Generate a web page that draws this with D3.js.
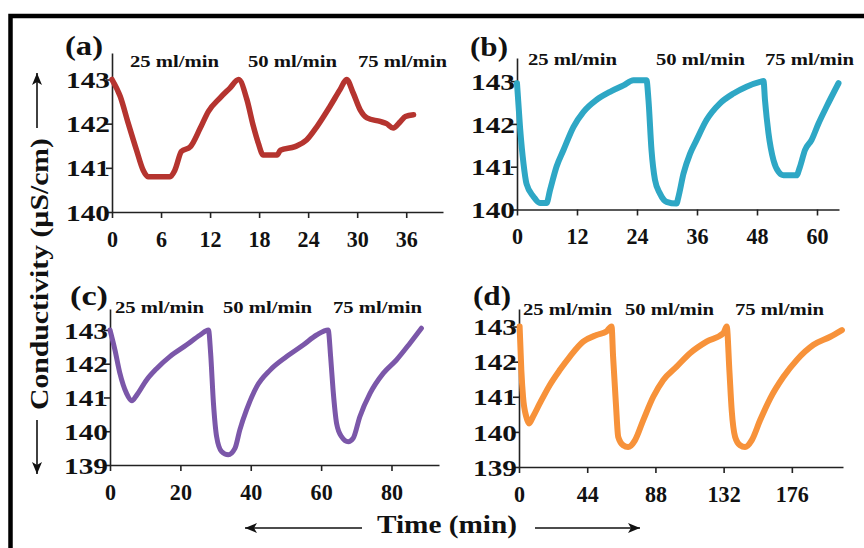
<!DOCTYPE html>
<html>
<head>
<meta charset="utf-8">
<script src="https://cdn.jsdelivr.net/npm/d3@7"></script>
<style>
  body { margin: 0; background: #fff; }
  text { font-family: "Liberation Serif", "Times New Roman", Tinos, serif; font-weight: bold; fill: #111; }
</style>
</head>
<body>
<div id="chart"></div>
<script>
// datos (tiempo en min, conductividad en uS/cm)
const timeA = [0, 1, 2, 3, 3.8, 4.4, 7.1, 7.7, 8.5, 9.6, 10.8, 11.8, 13.2, 14.4, 15.5, 16.5, 17.3, 17.9, 18.5, 20.2, 20.6, 22.4, 23.8, 25.1, 26.7, 27.9, 28.7, 29.5, 30.4, 31.2, 32.8, 33.6, 34.4, 35.3, 35.9, 36.9];
const condA = [143, 142.62, 142.0, 141.4, 140.95, 140.8, 140.8, 140.95, 141.37, 141.48, 141.9, 142.28, 142.58, 142.8, 143.0, 142.55, 141.94, 141.56, 141.29, 141.29, 141.4, 141.48, 141.63, 141.94, 142.4, 142.77, 143.0, 142.7, 142.3, 142.13, 142.05, 142.0, 141.9, 142.05, 142.16, 142.2];

const timeB = [0, 0.6, 1.3, 1.9, 3.3, 4.6, 5.9, 6.6, 7.9, 9.3, 11.3, 13.3, 15.9, 18.6, 21.3, 23.3, 25.9, 26.3, 26.9, 27.6, 28.6, 29.9, 31.9, 32.3, 33.3, 34.6, 35.9, 37.9, 40.6, 43.3, 45.9, 48.6, 49.3, 49.6, 50.3, 51.3, 52.3, 53.3, 55.9, 56.6, 57.6, 58.9, 60.3, 61.9, 64.3];
const condB = [142.95, 141.93, 141.07, 140.6, 140.3, 140.15, 140.15, 140.45, 141.0, 141.39, 141.93, 142.28, 142.56, 142.75, 142.9, 143.02, 143.02, 142.55, 141.39, 140.69, 140.37, 140.18, 140.14, 140.3, 140.84, 141.3, 141.62, 142.09, 142.48, 142.71, 142.87, 142.98, 143.0, 142.55, 141.78, 141.15, 140.88, 140.8, 140.8, 141.0, 141.39, 141.62, 142.01, 142.4, 142.95];

const timeC = [0, 1.4, 2.8, 4.7, 6.2, 7.6, 10.4, 13.3, 17, 21.8, 25.6, 28, 28.6, 29.4, 30.3, 31.7, 33.6, 35.5, 36.9, 38.8, 41.7, 45.5, 50.2, 55, 58.7, 62, 62.7, 63.4, 64.4, 65.8, 67.7, 69.1, 71, 73.9, 77.7, 81.4, 85.2, 88.5];
const condC = [143, 142.41, 141.72, 141.12, 140.9, 141.07, 141.52, 141.86, 142.21, 142.56, 142.85, 143.0, 142.31, 140.83, 139.84, 139.4, 139.3, 139.49, 140.04, 140.63, 141.32, 141.81, 142.21, 142.56, 142.85, 143.0, 142.21, 141.22, 140.23, 139.84, 139.69, 139.79, 140.43, 141.12, 141.72, 142.11, 142.6, 143.05];

const timeD = [0.4, 1.5, 2.6, 4.7, 6.5, 9, 13.4, 19.8, 26.3, 32.7, 41.4, 50, 56.4, 59.7, 60.7, 62.5, 64, 67.2, 70.4, 74.8, 80.1, 86.6, 93.1, 101.7, 110.3, 121, 131.8, 134, 135.7, 137.2, 139.4, 142.6, 145.8, 150.1, 155.5, 162, 170.6, 179.2, 190, 200.8, 208.3];
const condD = [143, 141.76, 141.0, 140.43, 140.24, 140.43, 140.81, 141.33, 141.76, 142.14, 142.57, 142.76, 142.86, 143.0, 142.14, 140.81, 139.86, 139.62, 139.57, 139.76, 140.33, 141.0, 141.48, 141.86, 142.24, 142.57, 142.81, 143.0, 141.76, 140.62, 139.86, 139.62, 139.57, 139.76, 140.33, 140.95, 141.57, 142.05, 142.48, 142.71, 142.9];

const ticksXA = [0, 6, 12, 18, 24, 30, 36];
const ticksXB = [0, 12, 24, 36, 48, 60];
const ticksXC = [0, 20, 40, 60, 80];
const ticksXD = [0, 44, 88, 132, 176];
const ticksYAB = [140, 141, 142, 143];
const ticksYCD = [139, 140, 141, 142, 143];
const flowLabels = ["25 ml/min", "50 ml/min", "75 ml/min"];

const width = 864;
const height = 548;

const svg = d3.select("#chart")
  .append("svg")
  .attr("width", width)
  .attr("height", height);

// marco
svg.append("rect")
  .attr("x", 10.5)
  .attr("y", 16)
  .attr("width", 900)
  .attr("height", 600)
  .attr("fill", "none")
  .attr("stroke", "#000")
  .attr("stroke-width", 4.5);

const paneles = [
  { letra: "(a)", t: timeA, c: condA, color: "#b5342f", lw: 5.5,
    x0: 112, x1: 443, xd: [0, 40.5], yTop: 53, yBot: 212, yd: [140, 143.6],
    ticksX: ticksXA, ticksY: ticksYAB,
    letraPos: [65, 55], labs: [[130, 67], [248, 67], [358, 67]] },
  { letra: "(b)", t: timeB, c: condB, color: "#2ea7c5", lw: 6,
    x0: 517, x1: 839, xd: [0, 64.4], yTop: 58, yBot: 209.5, yd: [140, 143.54],
    ticksX: ticksXB, ticksY: ticksYAB,
    letraPos: [470, 56], labs: [[528, 65], [656, 65], [765, 65]] },
  { letra: "(c)", t: timeC, c: condC, color: "#7b57a9", lw: 5,
    x0: 110, x1: 439, xd: [0, 93.5], yTop: 309, yBot: 465, yd: [139, 143.62],
    ticksX: ticksXC, ticksY: ticksYCD,
    letraPos: [70, 305], labs: [[115, 313], [223, 313], [333, 313]] },
  { letra: "(d)", t: timeD, c: condD, color: "#f7923a", lw: 6,
    x0: 519, x1: 843, xd: [0, 209], yTop: 309, yBot: 467, yd: [139, 143.5],
    ticksX: ticksXD, ticksY: ticksYCD,
    letraPos: [473, 305], labs: [[523, 315], [625, 315], [735, 315]] }
];

paneles.forEach(p => {
  const x = d3.scaleLinear().domain(p.xd).range([p.x0, p.x1]);
  const y = d3.scaleLinear().domain(p.yd).range([p.yBot, p.yTop]);

  const gx = svg.append("g")
    .attr("transform", `translate(0,${p.yBot})`)
    .call(d3.axisBottom(x).tickValues(p.ticksX).tickFormat(d3.format("d")).tickSize(6).tickSizeOuter(0));
  gx.attr("font-family", null);
  gx.select(".domain").attr("stroke", "#222").attr("stroke-width", 1.6);
  gx.selectAll(".tick line").attr("stroke", "#222").attr("stroke-width", 1.6);
  gx.selectAll("text")
    .attr("y", 35)
    .attr("dy", 0)
    .attr("transform", "scale(0.92,1)")
    .style("font-size", "24px")
    .attr("fill", "#111");

  const gy = svg.append("g")
    .attr("transform", `translate(${p.x0},0)`)
    .call(d3.axisLeft(y).tickValues(p.ticksY).tickFormat(d3.format("d")).tickSize(6).tickSizeOuter(0));
  gy.attr("font-family", null);
  gy.select(".domain").attr("stroke", "#222").attr("stroke-width", 1.6);
  gy.selectAll(".tick line").attr("stroke", "#222").attr("stroke-width", 1.6);
  gy.selectAll("text")
    .attr("x", 0)
    .attr("dy", "0.34em")
    .attr("transform", "translate(-2,0) scale(1.22,1)")
    .style("font-size", "24px")
    .attr("fill", "#111");

  const linea = d3.line()
    .x((d, i) => x(p.t[i]))
    .y(d => y(d))
    .curve(d3.curveMonotoneX);

  svg.append("path")
    .datum(p.c)
    .attr("d", linea)
    .attr("fill", "none")
    .attr("stroke", p.color)
    .attr("stroke-width", p.lw)
    .attr("stroke-linejoin", "round")
    .attr("stroke-linecap", "round");

  svg.append("text")
    .attr("x", p.letraPos[0])
    .attr("y", p.letraPos[1])
    .attr("textLength", 38)
    .attr("lengthAdjust", "spacingAndGlyphs")
    .style("font-size", "27px")
    .text(p.letra);

  p.labs.forEach((pos, i) => {
    svg.append("text")
      .attr("x", pos[0])
      .attr("y", pos[1])
      .attr("textLength", 89)
      .attr("lengthAdjust", "spacingAndGlyphs")
      .style("font-size", "16px")
      .text(flowLabels[i]);
  });
});

// titulos de ejes con flechas
svg.append("text")
  .attr("transform", "translate(48,410) rotate(-90)")
  .attr("textLength", 272)
  .attr("lengthAdjust", "spacingAndGlyphs")
  .style("font-size", "26px")
  .text("Conductivity (µS/cm)");

svg.append("text")
  .attr("x", 377)
  .attr("y", 533)
  .attr("textLength", 140)
  .attr("lengthAdjust", "spacingAndGlyphs")
  .style("font-size", "26px")
  .text("Time (min)");

const flecha = (x1, y1, x2, y2) => {
  svg.append("line")
    .attr("x1", x1).attr("y1", y1)
    .attr("x2", x2).attr("y2", y2)
    .attr("stroke", "#111")
    .attr("stroke-width", 1.6);
  const ang = Math.atan2(y2 - y1, x2 - x1);
  const L = 12, W = 5;
  const bx = x2 - L * Math.cos(ang), by = y2 - L * Math.sin(ang);
  const px = -Math.sin(ang) * W, py = Math.cos(ang) * W;
  svg.append("path")
    .attr("d", `M${x2},${y2}L${bx + px},${by + py}L${bx + L * 0.25 * Math.cos(ang)},${by + L * 0.25 * Math.sin(ang)}L${bx - px},${by - py}Z`)
    .attr("fill", "#111");
};

flecha(37, 128, 37, 73);
flecha(37, 420, 37, 474);
flecha(362, 528, 245, 528);
flecha(535, 528, 640, 528);
</script>
</body>
</html>
